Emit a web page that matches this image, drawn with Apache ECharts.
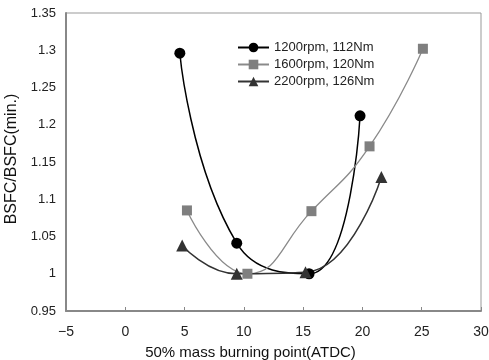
<!DOCTYPE html>
<html>
<head>
<meta charset="utf-8">
<script src="https://cdn.jsdelivr.net/npm/echarts@6/dist/echarts.min.js"></script>
<style>html,body{margin:0;padding:0;background:#fff}#c{width:489px;height:360px}</style>
</head>
<body>
<div id="c"></div>
<script>
var xTicks = [-5, 0, 5, 10, 15, 20, 25, 30];
var yTicks = [0.95, 1, 1.05, 1.1, 1.15, 1.2, 1.25, 1.3, 1.35];
var names = ['1200rpm, 112Nm', '1600rpm, 120Nm', '2200rpm, 126Nm'];
var s1200 = [[4.6, 1.296], [9.4, 1.041], [15.5, 1.0], [19.8, 1.212]];
var s1600 = [[5.2, 1.085], [10.3, 1.0], [15.7, 1.084], [20.6, 1.171], [25.1, 1.302]];
var s2200 = [[4.8, 1.038], [9.4, 1.0], [15.2, 1.002], [21.6, 1.13]];

var chart = echarts.init(document.getElementById('c'));
var font = 'Liberation Sans, Arial, sans-serif';
function mk(name, data, color, lineColor, symbol, size, width) {
  return {
    name: name, type: 'line', data: data, smooth: 0.5,
    symbol: symbol, symbolSize: size,
    itemStyle: {color: color},
    lineStyle: {color: lineColor, width: width},
    z: 3
  };
}
chart.setOption({
  animation: false,
  backgroundColor: '#fff',
  grid: {left: 66, right: 8, top: 13, bottom: 49, show: true, borderColor: '#999', borderWidth: 1,
    containLabel: false, outerBoundsMode: 'none'},
  legend: {
    orient: 'vertical', left: 232, top: 36, itemWidth: 31, itemHeight: 12, itemGap: 4,
    data: names,
    textStyle: {fontFamily: font, fontSize: 13, color: '#222'}
  },
  xAxis: {
    type: 'value', min: -5, max: 30, interval: 5,
    axisLine: {show: true, onZero: false, lineStyle: {color: '#888', width: 2}},
    axisTick: {show: true, inside: true, length: 4, lineStyle: {color: '#888'}},
    splitLine: {show: false},
    axisLabel: {fontFamily: font, fontSize: 14, color: '#222', margin: 14,
      formatter: function (v) { return String(v).replace('-', '\u2212'); }},
    name: '50% mass burning point(ATDC)', nameLocation: 'middle', nameGap: 34,
    nameTextStyle: {fontFamily: font, fontSize: 15, color: '#111', padding: [0, 46, 0, 0]}
  },
  yAxis: {
    type: 'value', min: 0.95, max: 1.35, interval: 0.05,
    axisLine: {show: true, onZero: false, lineStyle: {color: '#888', width: 2}},
    axisTick: {show: false},
    splitLine: {show: false},
    axisLabel: {fontFamily: font, fontSize: 13, color: '#222', margin: 10,
      formatter: function (v) { return String(parseFloat(v.toFixed(2))); }},
    name: 'BSFC/BSFC(min.)', nameLocation: 'middle', nameGap: 42,
    nameTextStyle: {fontFamily: font, fontSize: 16, color: '#111', padding: [0, 0, 0, 6]}
  },
  series: [
    mk(names[0], s1200, '#000', '#000', 'circle', 11, 1.5),
    mk(names[1], s1600, '#7f7f7f', '#8a8a8a', 'rect', 10, 1.3),
    mk(names[2], s2200, '#333', '#333', 'triangle', 12, 1.5)
  ]
});
</script>
</body>
</html>
